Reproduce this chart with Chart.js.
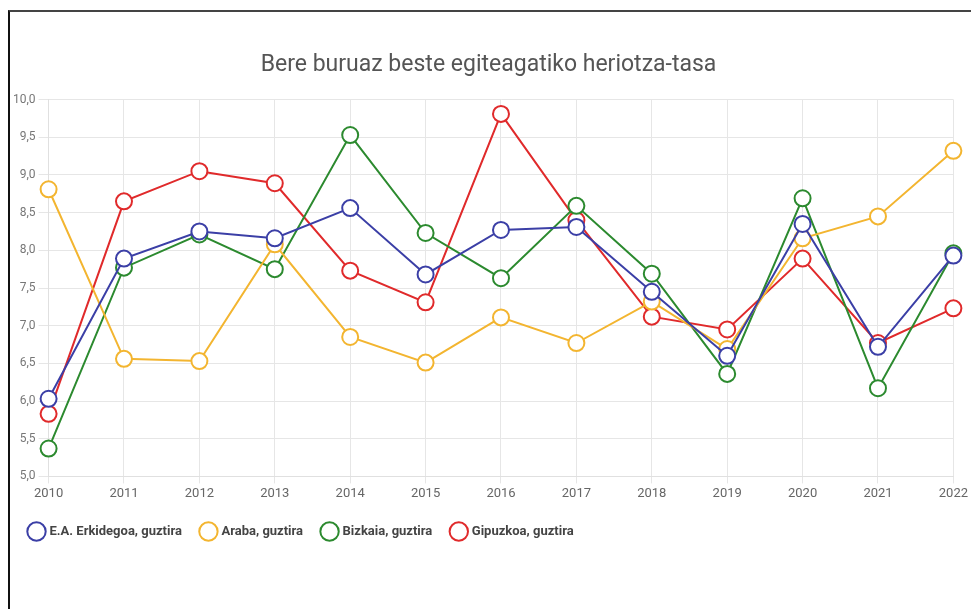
<!DOCTYPE html>
<html>
<head>
<meta charset="utf-8">
<script src="https://cdn.jsdelivr.net/npm/chart.js@4/dist/chart.umd.min.js"></script>
<style>
  html, body { margin: 0; padding: 0; background: #fff; }
  #frame {
    position: absolute;
    left: 8px;
    top: 10px;
    width: 963px;
    height: 599px;
    border-top: 2px solid #444;
    border-left: 2px solid #111;
  }
  #wrap { position: relative; width: 961px; height: 597px; }
</style>
</head>
<body>
<div id="frame"><div id="wrap"><canvas id="myChart"></canvas></div></div>
<script>
const years = ["2010", "2011", "2012", "2013", "2014", "2015", "2016", "2017", "2018", "2019", "2020", "2021", "2022"];

const seriesNames = ["E.A. Erkidegoa, guztira", "Araba, guztira", "Bizkaia, guztira", "Gipuzkoa, guztira"];

const erkidegoa = [6.03, 7.89, 8.25, 8.16, 8.56, 7.68, 8.27, 8.31, 7.45, 6.60, 8.35, 6.72, 7.93];
const araba = [8.81, 6.56, 6.53, 8.08, 6.85, 6.51, 7.11, 6.77, 7.32, 6.69, 8.16, 8.45, 9.32];
const bizkaia = [5.37, 7.77, 8.21, 7.75, 9.53, 8.23, 7.63, 8.59, 7.69, 6.36, 8.69, 6.17, 7.96];
const gipuzkoa = [5.83, 8.65, 9.05, 8.89, 7.73, 7.31, 9.81, 8.40, 7.12, 6.95, 7.89, 6.77, 7.23];

const colors = ["#3b3fa6", "#f3b530", "#2c8a2f", "#e02a2b"];

const line = (i, data) => ({
  label: seriesNames[i],
  data: data,
  borderColor: colors[i],
  backgroundColor: "#ffffff",
  pointBackgroundColor: "#ffffff",
  pointBorderColor: colors[i],
  borderWidth: 2,
  pointBorderWidth: 2,
  pointRadius: 8,
  pointHoverRadius: 8,
  tension: 0,
});

Chart.defaults.font.family = "Roboto, 'Liberation Sans', sans-serif";

const ctx = document.getElementById("myChart").getContext("2d");
new Chart(ctx, {
  type: "line",
  data: {
    labels: years,
    datasets: [
      line(0, erkidegoa),
      line(1, araba),
      line(2, bizkaia),
      line(3, gipuzkoa),
    ],
  },
  options: {
    responsive: true,
    maintainAspectRatio: false,
    animation: false,
    layout: {
      padding: { left: 0, right: 4, top: 39, bottom: 61 },
    },
    plugins: {
      title: {
        display: true,
        text: "Bere buruaz beste egiteagatiko heriotza-tasa",
        color: "#555",
        font: { size: 23, weight: "normal" },
        padding: { top: 0, bottom: 21 },
      },
      legend: {
        position: "bottom",
        align: "start",
        labels: {
          usePointStyle: true,
          pointStyle: "circle",
          padding: 20,
          color: "#444",
          font: { size: 13, weight: "bold" },
        },
      },
      tooltip: { enabled: false },
    },
    scales: {
      x: {
        grid: { color: "#e6e6e6", tickLength: 7 },
        border: { color: "#e0e0e0" },
        ticks: { color: "#666", font: { size: 13 }, maxRotation: 0, autoSkip: false },
      },
      y: {
        min: 5,
        max: 10,
        grid: { color: "#e6e6e6", tickLength: 10 },
        border: { color: "#e0e0e0" },
        ticks: {
          stepSize: 0.5,
          color: "#777",
          font: { size: 12 },
          callback: (v) => Number(v).toFixed(1).replace(".", ","),
        },
      },
    },
  },
});
</script>
</body>
</html>
